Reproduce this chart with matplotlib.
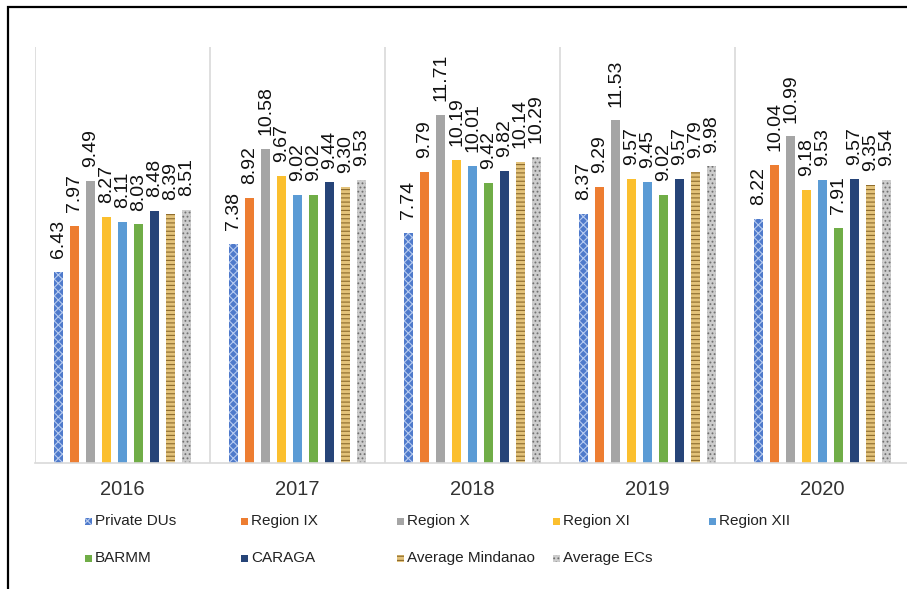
import numpy as np
import matplotlib
matplotlib.use('Agg')
import matplotlib.pyplot as plt
from matplotlib.patches import Rectangle

plt.rcParams['font.family'] = ['Liberation Sans', 'DejaVu Sans']
plt.rcParams['hatch.linewidth'] = 0.8

years = ['2016', '2017', '2018', '2019', '2020']
series = ['Private DUs', 'Region IX', 'Region X', 'Region XI', 'Region XII',
          'BARMM', 'CARAGA', 'Average Mindanao', 'Average ECs']

private_dus = [6.43, 7.38, 7.74, 8.37, 8.22]
region_ix = [7.97, 8.92, 9.79, 9.29, 10.04]
region_x = [9.49, 10.58, 11.71, 11.53, 10.99]
region_xi = [8.27, 9.67, 10.19, 9.57, 9.18]
region_xii = [8.11, 9.02, 10.01, 9.45, 9.53]
barmm = [8.03, 9.02, 9.42, 9.02, 7.91]
caraga = [8.48, 9.44, 9.82, 9.57, 9.57]
avg_mindanao = [8.39, 9.30, 10.14, 9.79, 9.35]
avg_ecs = [8.51, 9.53, 10.29, 9.98, 9.54]

values = [private_dus, region_ix, region_x, region_xi, region_xii,
          barmm, caraga, avg_mindanao, avg_ecs]

# face colour, hatch, hatch colour
styles = [
    ('#4F7ACB', 'xxxx', '#B8CCF0'),
    ('#ED7D31', None, None),
    ('#A5A5A5', None, None),
    ('#FBBF2E', None, None),
    ('#5B9BD5', None, None),
    ('#70AD47', None, None),
    ('#264478', None, None),
    ('#E3C27A', '----', '#8C6A2C'),
    ('#CDCDCD', '....', '#707070'),
]

fig = plt.figure(figsize=(9.07, 5.89), dpi=100)
ax = fig.add_axes([35 / 907, 126 / 589, 875 / 907, 416 / 589])

x = np.arange(len(years))
step = 0.0914
width = 0.052
for i, (vals, (fc, hatch, hc)) in enumerate(zip(values, styles)):
    pos = x + (i - 4) * step
    bars = ax.bar(pos, vals, width, color=fc, label=series[i],
                  hatch=hatch, edgecolor=hc if hatch else fc, linewidth=0)
    for b, v in zip(bars, vals):
        ax.annotate(f'{v:.2f}', (b.get_x() + b.get_width() / 2, v),
                    xytext=(0, 10), textcoords='offset points',
                    rotation=90, ha='center', va='bottom',
                    fontsize=14, color='#111111')

for bnd in np.arange(-0.5, len(years), 1.0):
    ax.axvline(bnd, color='#D9D9D9', lw=1.2, zorder=0)

ax.set_xlim(-0.5, len(years) - 0.5)
ax.set_ylim(0, 14)
ax.set_yticks([])
ax.set_xticks(x)
ax.set_xticklabels(years, fontsize=14.5, color='#333333')
ax.tick_params(axis='x', length=0, pad=12)
for s in ['top', 'right', 'left']:
    ax.spines[s].set_visible(False)
ax.spines['bottom'].set_color('#D9D9D9')
ax.spines['bottom'].set_linewidth(1.2)
ax.patch.set_alpha(0)

# legend laid out in two rows of five equal columns
for i, (name, (fc, hatch, hc)) in enumerate(zip(series, styles)):
    col, row = i % 5, i // 5
    lx = (85 + col * 156) / 907
    ly = 1 - (521 + row * 37) / 589
    fig.add_artist(Rectangle((lx, ly - 4 / 589), 7 / 907, 7 / 589,
                             transform=fig.transFigure, facecolor=fc,
                             hatch=hatch, edgecolor=hc if hatch else fc,
                             linewidth=0))
    fig.text(lx + 10 / 907, ly, name, fontsize=11, va='center', ha='left',
             color='#222222')

# outer frame
fig.add_artist(Rectangle((8 / 907, -0.05), 1.0, 1 - 7 / 589 + 0.05,
                         transform=fig.transFigure, fill=False,
                         edgecolor='black', linewidth=1.6))

fig.savefig('out.png', dpi=100)
